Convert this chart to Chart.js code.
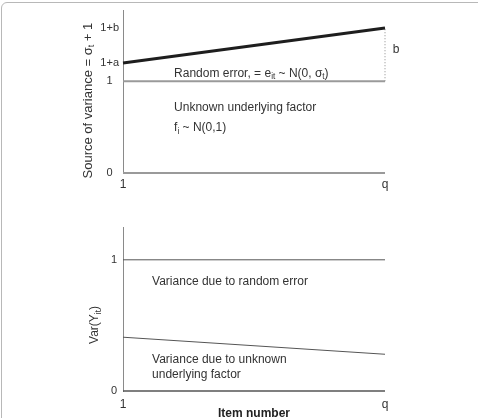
<!DOCTYPE html>
<html>
<head>
<meta charset="utf-8">
<script src="https://cdn.jsdelivr.net/npm/chart.js@4.4.1/dist/chart.umd.min.js"></script>
<style>
  html,body{margin:0;padding:0;background:#fff;}
  #wrap{position:relative;width:478px;height:418px;overflow:hidden;}
  #frame{position:absolute;left:1px;top:2px;width:520px;height:520px;border:1px solid #b8b8b8;border-radius:6px;}
  canvas{position:absolute;left:0;}
  #cTop{top:0;}
  #cBot{top:200px;}
</style>
</head>
<body>
<div id="wrap">
  <div id="frame"></div>
  <canvas id="cTop" width="478" height="200"></canvas>
  <canvas id="cBot" width="478" height="218"></canvas>
</div>
<script>
// item axis (shared)
const itemTicks = [1, 2];
const itemLabels = ['1', 'q'];

// top panel: source of variance
const topTickValues = [0, 1, 1.2, 1.58];
const topTickLabels = ['0', '1', '1+a', '1+b'];
const topMax = 1.77;
const sigmaLine = [1.2, 1.58];   // sigma_t + 1 at item 1 and item q
const unitLine = [1, 1];

// bottom panel: Var(Y_it)
const botTickValues = [0, 1];
const botTickLabels = ['0', '1'];
const botMax = 1.25;
const totalVar = [1, 1];
const factorVar = [0.41, 0.28];

const FONT = '"Liberation Sans", Arial, Helvetica, sans-serif';
const TXT = '#333';

function pts(vals){ return vals.map((v,i)=>({x:itemTicks[i], y:v})); }

// draws text made of [text, isSub] pieces
function drawRich(ctx, x, y, segs, size){
  let cx = x;
  segs.forEach(s=>{
    const sub = !!s[1];
    const fs = sub ? size*0.68 : size;
    ctx.font = fs + 'px ' + FONT;
    ctx.fillText(s[0], cx, sub ? y + size*0.3 : y);
    cx += ctx.measureText(s[0]).width;
  });
}
function richWidth(ctx, segs, size){
  let w = 0;
  segs.forEach(s=>{ ctx.font = (s[1]?size*0.68:size)+'px '+FONT; w += ctx.measureText(s[0]).width; });
  return w;
}

const notesPlugin = {
  id: 'notes',
  afterDraw(chart, args, opts){
    const ctx = chart.ctx, xs = chart.scales.x, ys = chart.scales.y, ca = chart.chartArea;
    ctx.save();
    ctx.fillStyle = TXT;
    ctx.textBaseline = 'middle';
    ctx.textAlign = 'left';
    (opts.items||[]).forEach(n=>{
      drawRich(ctx, xs.getPixelForValue(n.x), ys.getPixelForValue(n.y), n.segs, n.size||12);
    });
    if (opts.yTitle){
      const t = opts.yTitle, size = t.size;
      const w = richWidth(ctx, t.segs, size);
      ctx.translate(ca.left + t.dx, ca.top + t.dy);
      ctx.rotate(-Math.PI/2);
      drawRich(ctx, -w/2, 0, t.segs, size);
    }
    ctx.restore();
  }
};

function baseOptions(tickVals, tickLabels, yMax, padTop, xHeight, xTitle){
  return {
    responsive:false, animation:false, events:[],
    layout:{padding:{left:0, right:93, top:padTop, bottom:0}},
    plugins:{legend:{display:false}, tooltip:{enabled:false}},
    scales:{
      x:{
        type:'linear', min:1, max:2,
        afterBuildTicks:s=>{ s.ticks = itemTicks.map(v=>({value:v})); },
        afterFit:s=>{ s.height = xHeight; },
        ticks:{callback:v=>itemLabels[itemTicks.indexOf(v)] ?? '', color:TXT, font:{family:FONT, size:12}, padding:4, maxRotation:0, autoSkip:false},
        grid:{display:false, drawTicks:false},
        border:{display:false},
        title:xTitle
      },
      y:{
        type:'linear', min:0, max:yMax,
        afterBuildTicks:s=>{ s.ticks = tickVals.map(v=>({value:v})); },
        afterFit:s=>{ s.width = 123; },
        ticks:{callback:v=>tickLabels[tickVals.indexOf(v)] ?? '', color:TXT, font:{family:FONT, size:11}, padding:6, autoSkip:false},
        grid:{display:false, drawTicks:false},
        border:{display:true, color:'#8a8a8a', width:1}
      }
    }
  };
}

const lineDs = (data, color, width, dash) => ({data, borderColor:color, borderWidth:width, borderDash:dash||[], pointRadius:0, fill:false, tension:0, clip:false});

// top chart
const topOpts = baseOptions(topTickValues, topTickLabels, topMax, 10, 27, {display:false});
topOpts.scales.y.ticks.crossAlign = 'center';
topOpts.scales.y.ticks.padding = 4;
topOpts.plugins.notes = {
  items:[
    {x:1.195, y:1.087, segs:[['Random error, = e'],['it',1],[' ~ N(0, σ'],['t',1],[')']]},
    {x:1.195, y:0.717, segs:[['Unknown underlying factor']]},
    {x:1.195, y:0.489, segs:[['f'],['i',1],[' ~ N(0,1)']]},
    {x:2.03, y:1.34, segs:[['b']]}
  ],
  yTitle:{dx:-35, dy:90, size:13, segs:[['Source of variance = σ'],['t',1],[' + 1']]}
};
new Chart(document.getElementById('cTop'), {
  type:'line',
  data:{datasets:[
    lineDs(pts(sigmaLine), '#1e1e1e', 3),
    lineDs(pts(unitLine), '#9a9a9a', 2),
    lineDs([{x:itemTicks[1], y:unitLine[1]},{x:itemTicks[1], y:sigmaLine[1]}], '#8a8a8a', 1, [1,2]),
    lineDs(pts([0,0]), '#9a9a9a', 2)
  ]},
  options:topOpts,
  plugins:[notesPlugin]
});

// bottom chart
const botOpts = baseOptions(botTickValues, botTickLabels, botMax, 27, 27,
  {display:true, text:'Item number', color:'#222', font:{family:FONT, size:12, weight:'bold', lineHeight:1}, padding:{top:0, bottom:-2}});
botOpts.scales.x.ticks.padding = 6;
botOpts.plugins.notes = {
  items:[
    {x:1.111, y:0.832, segs:[['Variance due to random error']]},
    {x:1.111, y:0.237, segs:[['Variance due to unknown']]},
    {x:1.111, y:0.122, segs:[['underlying factor']]}
  ],
  yTitle:{dx:-28, dy:98, size:12, segs:[['Var(Y'],['it',1],[')']]}
};
new Chart(document.getElementById('cBot'), {
  type:'line',
  data:{datasets:[
    lineDs(pts(totalVar), '#555', 1),
    lineDs(pts(factorVar), '#555', 1),
    lineDs(pts([0,0]), '#555', 1.5)
  ]},
  options:botOpts,
  plugins:[notesPlugin]
});
</script>
</body>
</html>
